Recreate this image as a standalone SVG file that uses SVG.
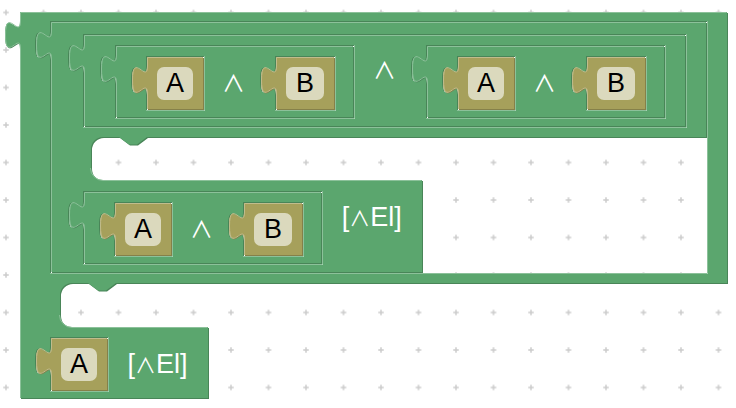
<svg xmlns="http://www.w3.org/2000/svg" width="736" height="408" viewBox="0 0 736 408">
<style>
.gd{fill:#498558}
.gm{fill:#5ba66e;fill-rule:evenodd}
.gl{fill:none;stroke:#8cc19a;stroke-width:1}
.od{fill:#858049}
.om{fill:#a6a05b}
.ol{fill:none;stroke:#c1bc8c;stroke-width:1}
.fld{fill:#dbd9bd}
.t{font-family:"Liberation Sans",Arial,"DejaVu Sans",sans-serif;font-size:27px;text-anchor:middle}
.s{font-family:"Noto Sans CJK JP","DejaVu Sans",sans-serif;font-size:23px}
.sl{font-family:"Noto Sans CJK JP","DejaVu Sans",sans-serif;font-size:21px}
.tb{fill:#000}
.tw{fill:#fff}
</style>
<defs>
<pattern id="grid" x="-12.75" y="-6.25" width="37.5" height="37.5" patternUnits="userSpaceOnUse">
<path d="M16 18.75H21.5M18.75 16V21.5" stroke="#cccccc" stroke-width="1.5" fill="none"/>
</pattern>
<path id="vA" d="M0,0H56V52H0V37c0,-18.75 -15,15 -15,-14s15,4.7 15,-14V0Z"/>
<path id="hA" d="M0.5,52V37c0,-18.75 -15,15 -15,-14s15,4.7 15,-14V0.5H55.5"/>
<path id="vB" d="M0,0H58V52H0V37c0,-18.75 -15,15 -15,-14s15,4.7 15,-14V0Z"/>
<path id="hB" d="M0.5,52V37c0,-18.75 -15,15 -15,-14s15,4.7 15,-14V0.5H57.5"/>
<path id="p1" d="M20,12H727V283H116l-10,7.5 -8,0 -10,-7.5H72a12,12 0 0 0 -12,12V315a12,12 0 0 0 12,12H208V398H20V49c0,-18.75 -15,15 -15,-14s15,4.7 15,-14V12Z
M50,21V31c0,18.75 -15,-15 -15,14s15,-4.7 15,14V274H708V21Z
M50,337V347c0,18.75 -15,-15 -15,14s15,-4.7 15,14V392H109V337Z"/>
<path id="p2" d="M51,22H706V137H147l-10,7.5 -8,0 -10,-7.5H103a12,12 0 0 0 -12,12V168a12,12 0 0 0 12,12H422V272H51V59c0,-18.75 -15,15 -15,-14s15,4.7 15,-14V22Z
M83,34V44c0,18.75 -15,-15 -15,14s15,-4.7 15,14V128H687V34Z
M83,191V201c0,18.75 -15,-15 -15,14s15,-4.7 15,14V265H323V191Z"/>
<path id="p3" d="M84,35H685V126H84V72c0,-18.75 -15,15 -15,-14s15,4.7 15,-14V35Z
M115,45V55c0,18.75 -15,-15 -15,14s15,-4.7 15,14V119H355V45Z
M426,45V55c0,18.75 -15,-15 -15,14s15,-4.7 15,14V119H666V45Z"/>
<path id="p4" d="M116,46H353V117H116V83c0,-18.75 -15,15 -15,-14s15,4.7 15,-14V46Z
M146,56V66c0,18.75 -15,-15 -15,14s15,-4.7 15,14V111H205V56Z
M275,56V66c0,18.75 -15,-15 -15,14s15,-4.7 15,14V111H336V56Z"/>
<path id="p5" d="M427,46H664V117H427V83c0,-18.75 -15,15 -15,-14s15,4.7 15,-14V46Z
M457,56V66c0,18.75 -15,-15 -15,14s15,-4.7 15,14V111H516V56Z
M586,56V66c0,18.75 -15,-15 -15,14s15,-4.7 15,14V111H647V56Z"/>
<path id="p6" d="M84,192H321V263H84V229c0,-18.75 -15,15 -15,-14s15,4.7 15,-14V192Z
M114,202V212c0,18.75 -15,-15 -15,14s15,-4.7 15,14V257H173V202Z
M243,202V212c0,18.75 -15,-15 -15,14s15,-4.7 15,14V257H304V202Z"/>
</defs>
<rect width="736" height="408" fill="#ffffff"/>
<rect width="736" height="408" fill="url(#grid)"/>
<g id="connectors"/>
<g id="block1">
<use href="#p1" class="gd" transform="translate(1,1)"/>
<use href="#p1" class="gm"/>
<path class="gl" d="M20.5,398V49c0,-18.75 -15,15 -15,-14s15,4.7 15,-14V12.5H726.5M707.5,21V273.5H50M59.5,315A12.5,12.5 0 0 0 72,327.5H207.5M108.5,337V391.5H50"/>
<text class="t tw" x="157.5" y="372.7">[<tspan class="sl">∧</tspan>El]</text>
</g>
<g id="block2">
<use href="#p2" class="gd" transform="translate(1,1)"/>
<use href="#p2" class="gm"/>
<path class="gl" d="M51.5,272V59c0,-18.75 -15,15 -15,-14s15,4.7 15,-14V22.5H705.5M686.5,34V127.5H83M322.5,191V264.5H83M90.5,168A12.5,12.5 0 0 0 103,180.5H421.5"/>
<text class="t tw" x="371.8" y="225.5">[<tspan class="sl">∧</tspan>El]</text>
</g>
<g id="block3">
<use href="#p3" class="gd" transform="translate(1,1)"/>
<use href="#p3" class="gm"/>
<path class="gl" d="M84.5,126V72c0,-18.75 -15,15 -15,-14s15,4.7 15,-14V35.5H684.5M354.5,45V118.5H115M665.5,45V118.5H426"/>
<text class="t s tw" x="384.5" y="79">∧</text>
</g>
<g id="block4">
<use href="#p4" class="gd" transform="translate(1,1)"/>
<use href="#p4" class="gm"/>
<path class="gl" d="M116.5,117V83c0,-18.75 -15,15 -15,-14s15,4.7 15,-14V46.5H352.5M204.5,56V110.5H146M335.5,56V110.5H275"/>
<text class="t s tw" x="233.4" y="91.7">∧</text>
</g>
<g id="a1" transform="translate(147,57)">
<use href="#vA" class="od" transform="translate(1,1)"/><use href="#vA" class="om"/><use href="#hA" class="ol"/>
<rect class="fld" x="10" y="10" width="36" height="33" rx="7"/>
<text class="t tb" x="28" y="35">A</text>
</g>
<g id="b1" transform="translate(276,57)">
<use href="#vB" class="od" transform="translate(1,1)"/><use href="#vB" class="om"/><use href="#hB" class="ol"/>
<rect class="fld" x="10" y="10" width="38" height="33" rx="7"/>
<text class="t tb" x="29" y="35">B</text>
</g>
<g id="block5">
<use href="#p5" class="gd" transform="translate(1,1)"/>
<use href="#p5" class="gm"/>
<path class="gl" d="M427.5,117V83c0,-18.75 -15,15 -15,-14s15,4.7 15,-14V46.5H663.5M515.5,56V110.5H457M646.5,56V110.5H586"/>
<text class="t s tw" x="544.4" y="91.7">∧</text>
</g>
<g id="a2" transform="translate(458,57)">
<use href="#vA" class="od" transform="translate(1,1)"/><use href="#vA" class="om"/><use href="#hA" class="ol"/>
<rect class="fld" x="10" y="10" width="36" height="33" rx="7"/>
<text class="t tb" x="28" y="35">A</text>
</g>
<g id="b2" transform="translate(587,57)">
<use href="#vB" class="od" transform="translate(1,1)"/><use href="#vB" class="om"/><use href="#hB" class="ol"/>
<rect class="fld" x="10" y="10" width="38" height="33" rx="7"/>
<text class="t tb" x="29" y="35">B</text>
</g>
<g id="block6">
<use href="#p6" class="gd" transform="translate(1,1)"/>
<use href="#p6" class="gm"/>
<path class="gl" d="M84.5,263V229c0,-18.75 -15,15 -15,-14s15,4.7 15,-14V192.5H320.5M172.5,202V256.5H114M303.5,202V256.5H243"/>
<text class="t s tw" x="201.4" y="237.7">∧</text>
</g>
<g id="a3" transform="translate(115,203)">
<use href="#vA" class="od" transform="translate(1,1)"/><use href="#vA" class="om"/><use href="#hA" class="ol"/>
<rect class="fld" x="10" y="10" width="36" height="33" rx="7"/>
<text class="t tb" x="28" y="35">A</text>
</g>
<g id="b3" transform="translate(244,203)">
<use href="#vB" class="od" transform="translate(1,1)"/><use href="#vB" class="om"/><use href="#hB" class="ol"/>
<rect class="fld" x="10" y="10" width="38" height="33" rx="7"/>
<text class="t tb" x="29" y="35">B</text>
</g>
<g id="a4" transform="translate(51,338)">
<use href="#vA" class="od" transform="translate(1,1)"/><use href="#vA" class="om"/><use href="#hA" class="ol"/>
<rect class="fld" x="10" y="10" width="36" height="33" rx="7"/>
<text class="t tb" x="28" y="35">A</text>
</g>
</svg>
